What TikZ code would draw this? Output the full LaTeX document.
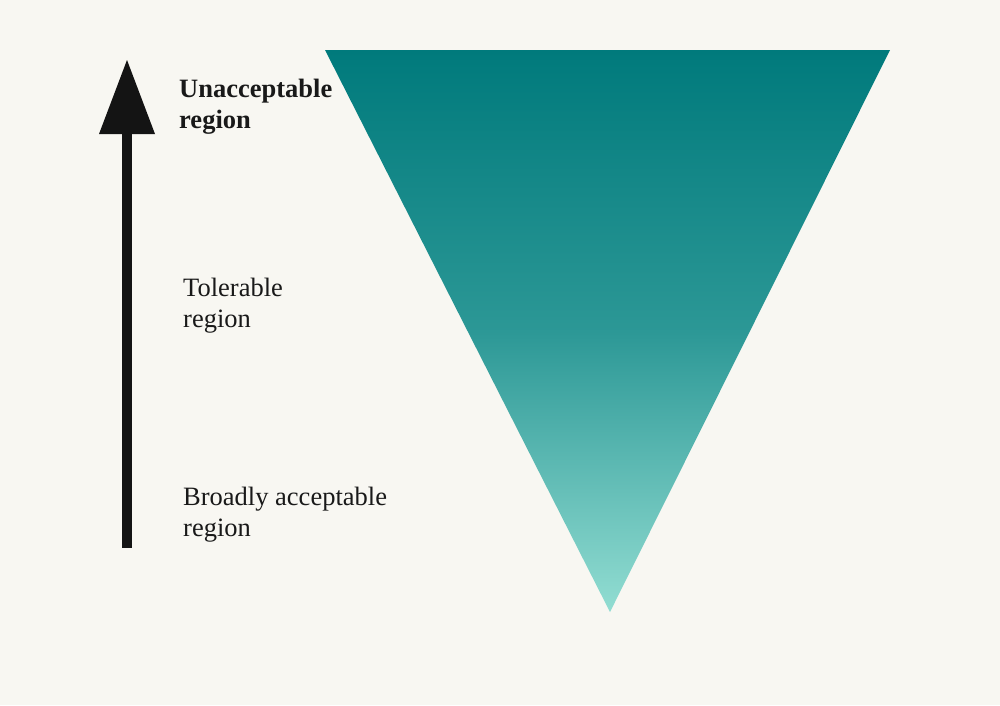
\documentclass[tikz,border=0pt]{standalone}
\usepackage{fontspec}
\setmainfont{Liberation Serif}
\definecolor{bg}{HTML}{F8F7F2}
\definecolor{tealtop}{HTML}{007A7C}
\definecolor{tealbot}{HTML}{92DDD2}
\begin{document}
\begin{tikzpicture}[x=1pt,y=-1pt,
  lbl/.style={anchor=west,align=left,font=\fontsize{26.5}{31}\selectfont,text=black!90,inner sep=0pt}]
\fill[bg] (0,0) rectangle (1000,705);
\useasboundingbox (0,0) rectangle (1000,705);
\shade[top color=tealtop,bottom color=tealbot,middle color=tealtop!70!tealbot] (325,50) -- (890,50) -- (610,612) -- cycle;
\coordinate (base) at (127,548);
\coordinate (hb) at (127,134);
\coordinate (tip) at (127,60);
\fill[black!92] ([xshift=-5]base) rectangle ([xshift=5]hb);
\fill[black!92] ([xshift=-28]hb) -- ([xshift=28]hb) -- (tip) -- cycle;
\node[lbl] (u) at (179,107) {\textbf{Unacceptable}\\\textbf{region}};
\node[lbl] (t) at (183,306) {Tolerable\\region};
\node[lbl] (b) at (183,515) {Broadly acceptable\\region};
\end{tikzpicture}
\end{document}
